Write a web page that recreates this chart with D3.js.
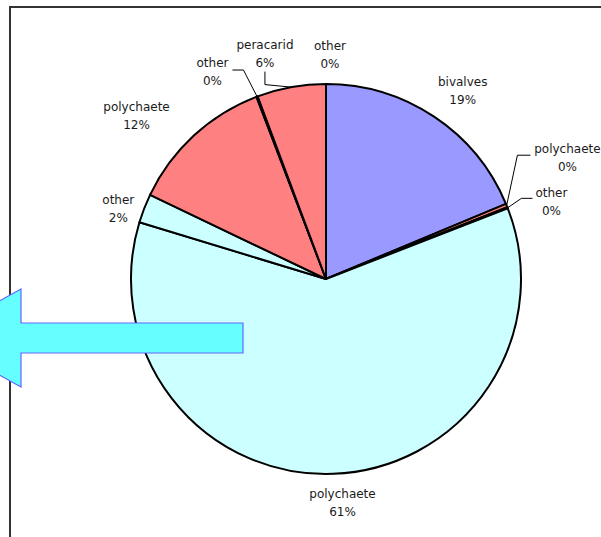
<!DOCTYPE html>
<html>
<head>
<meta charset="utf-8">
<script src="https://cdn.jsdelivr.net/npm/d3@7"></script>
<style>
  html, body { margin: 0; padding: 0; background: #fff; }
  svg { display: block; }
  text { font-family: "DejaVu Sans", Verdana, sans-serif; font-size: 12px; fill: #1a1a1a; }
</style>
</head>
<body>
<svg id="chart" width="601" height="537"></svg>
<script>
// Diet composition, slices clockwise from 12 o'clock
const categories = ["bivalves", "polychaete", "other", "polychaete", "other", "polychaete", "other", "peracarid", "other"];
const percents   = [18.7, 0.3, 0.1, 60.6, 2.4, 12.1, 0.1, 5.7, 0.0];
const sliceColors = ["#9999FF", "#FF8080", "#CCFFFF", "#CCFFFF", "#CCFFFF", "#FF8080", "#FF8080", "#FF8080", "#9999FF"];

// Label placement: shift from the label ring, per slice
const labelNudge = [[12, 0], [33, -36], [16, 6], [8, 0], [2, 12], [-37, 3], [-34, 4], [-21, -3], [4, 1]];
// Leader lines: attach point and elbow relative to label centre (null = no leader)
const leaders = [null, {attach: [-37, -3], elbow: [-50, -3]}, {attach: [-19, -4.5], elbow: [-30, -4.5]},
                 null, null, null, {attach: [20, -2.5], elbow: [31, -2.5]}, {attach: [0, 17], elbow: [0, 30]}, null];

const svg = d3.select("#chart");
const cx = 326, cy = 279, radius = 195, labelRadius = 225;

// Plot frame (extends past the window on right and bottom)
svg.append("rect")
  .attr("x", 10).attr("y", 7).attr("width", 700).attr("height", 700)
  .attr("fill", "none").attr("stroke", "#333").attr("stroke-width", 2);

const pie = d3.pie().sort(null).value(d => d).startAngle(0).endAngle(2 * Math.PI);
const arcs = pie(percents);
const arc = d3.arc().innerRadius(0).outerRadius(radius);
const edgeArc = d3.arc().innerRadius(radius).outerRadius(radius);
const labelArc = d3.arc().innerRadius(labelRadius).outerRadius(labelRadius);

const g = svg.append("g").attr("transform", `translate(${cx},${cy})`);

g.selectAll("path.slice")
  .data(arcs)
  .join("path")
  .attr("class", "slice")
  .attr("d", arc)
  .attr("fill", (d, i) => sliceColors[i])
  .attr("stroke", "#000")
  .attr("stroke-width", 2)
  .attr("stroke-linejoin", "round");

// Labels and leader lines
arcs.forEach((d, i) => {
  const base = labelArc.centroid(d);
  const lx = base[0] + labelNudge[i][0];
  const ly = base[1] + labelNudge[i][1];

  const ld = leaders[i];
  if (ld) {
    const e = edgeArc.centroid(d);
    g.append("polyline")
      .attr("points", [e, [lx + ld.elbow[0], ly + ld.elbow[1]], [lx + ld.attach[0], ly + ld.attach[1]]]
        .map(p => p.join(",")).join(" "))
      .attr("fill", "none").attr("stroke", "#000").attr("stroke-width", 1);
  }

  const t = g.append("text").attr("text-anchor", "middle");
  t.append("tspan").attr("x", lx).attr("y", ly - 9).attr("dominant-baseline", "middle").text(categories[i]);
  t.append("tspan").attr("x", lx).attr("y", ly + 9).attr("dominant-baseline", "middle")
    .text(Math.round(d.data) + "%");
});

// Left-pointing block arrow overlay
const ap = d3.path();
ap.moveTo(243, 323);
ap.lineTo(21, 323);
ap.lineTo(21, 289);
ap.lineTo(-68, 338);
ap.lineTo(21, 387);
ap.lineTo(21, 353);
ap.lineTo(243, 353);
ap.closePath();
svg.append("path")
  .attr("d", ap.toString())
  .attr("fill", "#66FFFF")
  .attr("stroke", "#6666FF")
  .attr("stroke-width", 1.2);
</script>
</body>
</html>
